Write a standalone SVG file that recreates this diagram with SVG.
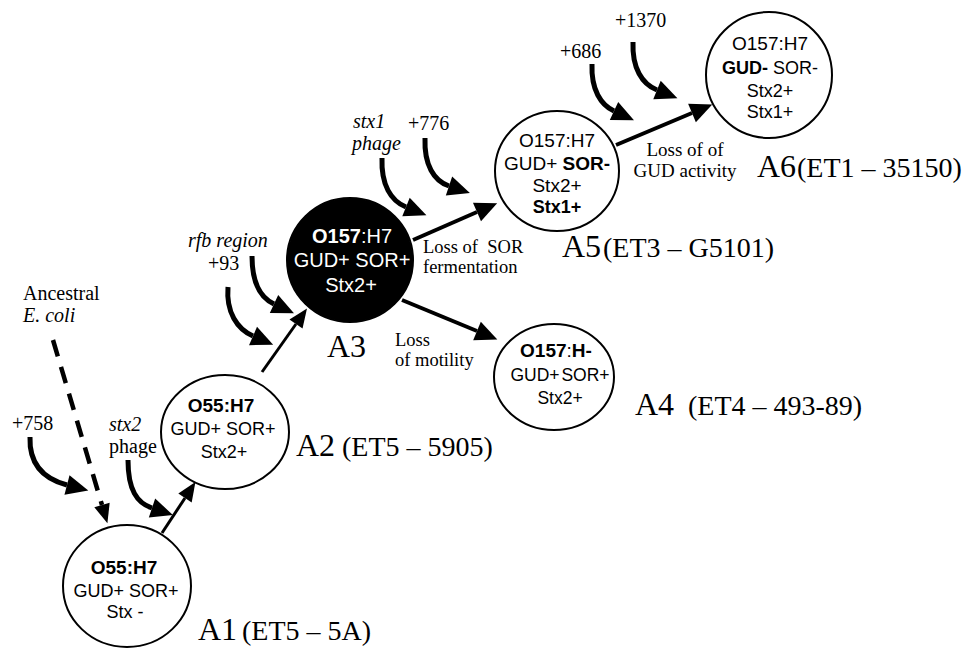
<svg xmlns="http://www.w3.org/2000/svg" width="972" height="648" viewBox="0 0 972 648">
<style>
.node{fill:#fff;stroke:#000;stroke-width:2}
.dark{fill:#000;stroke:#000;stroke-width:2}
.nt{font-family:"Liberation Sans",Arial,sans-serif;font-size:18px;text-anchor:middle;fill:#000}
.b{font-weight:bold}
.lab{font-family:"Liberation Serif","Times New Roman",serif;font-size:20px;fill:#000}
.sm{font-size:19px}
.it{font-style:italic}
.big{font-family:"Liberation Serif","Times New Roman",serif;font-size:32px;fill:#000}
.mid{font-size:28px}
.curve{fill:none;stroke:#000;stroke-width:5}
.straight{fill:none;stroke:#000;stroke-width:4}
.thin{fill:none;stroke:#000;stroke-width:3}
.dash{fill:none;stroke:#000;stroke-width:4.5;stroke-dasharray:17 11}
</style>
<defs>
<marker id="ah" markerUnits="userSpaceOnUse" viewBox="0 -10 22 20" refX="0" refY="0" markerWidth="22" markerHeight="20" orient="auto" overflow="visible">
<path d="M0,-10 L22,0 L0,10 z" fill="#000"/>
</marker>
<marker id="ahs" markerUnits="userSpaceOnUse" viewBox="0 -8 19 16" refX="0" refY="0" markerWidth="19" markerHeight="16" orient="auto" overflow="visible">
<path d="M0,-8 L19,0 L0,8 z" fill="#000"/>
</marker>
</defs>

<g id="connectors">
<path class="thin" d="M162,533 L185,498" marker-end="url(#ahs)"/>
<path class="thin" d="M262,372 L296,324" marker-end="url(#ahs)"/>
<path class="straight" d="M413,240 L477,212" marker-end="url(#ah)"/>
<path class="straight" d="M616,145 L692,113" marker-end="url(#ah)"/>
<path class="straight" d="M402,300 L477,331" marker-end="url(#ah)"/>
<path class="dash" d="M53,340 L102,505" marker-end="url(#ahs)"/>
<path class="curve" d="M30,437 C29,465 44,479 67,485" marker-end="url(#ah)"/>
<path class="curve" d="M128,460 C128,490 137,503 152,508" marker-end="url(#ah)"/>
<path class="curve" d="M228,287 C226,312 237,329 253,336" marker-end="url(#ah)"/>
<path class="curve" d="M252,256 C252,283 261,298 274,304" marker-end="url(#ah)"/>
<path class="curve" d="M382,158 C381,185 391,201 406,207" marker-end="url(#ah)"/>
<path class="curve" d="M425,138 C424,165 434,181 449,186" marker-end="url(#ah)"/>
<path class="curve" d="M592,64 C591,90 601,105 614,111" marker-end="url(#ah)"/>
<path class="curve" d="M633,42 C632,68 642,84 657,90" marker-end="url(#ah)"/>
<text class="lab" x="12" y="430">+758</text>
<text class="lab it" x="109" y="431">stx2</text>
<text class="lab" x="109" y="453">phage</text>
<text class="lab" x="23" y="300">Ancestral</text>
<text class="lab it" x="23" y="322">E. coli</text>
<text class="lab" x="208" y="270">+93</text>
<text class="lab it" x="188" y="247">rfb region</text>
<text class="lab it" x="353" y="128">stx1</text>
<text class="lab it" x="352" y="150">phage</text>
<text class="lab" x="408" y="130">+776</text>
<text class="lab" x="560" y="58">+686</text>
<text class="lab" x="615" y="27">+1370</text>
<text class="lab" x="423" y="253" style="font-size:18.5px" xml:space="preserve">Loss of  SOR</text>
<text class="lab" x="423" y="273" style="font-size:18.5px">fermentation</text>
<text class="lab sm" x="685" y="156" text-anchor="middle">Loss of of</text>
<text class="lab sm" x="685" y="177" text-anchor="middle">GUD activity</text>
<text class="lab" x="395" y="346" style="font-size:18.5px">Loss</text>
<text class="lab" x="395" y="366" style="font-size:18.5px">of motility</text>
</g>

<g id="A1">
<ellipse class="node" cx="127" cy="586" rx="64" ry="61"/>
<text class="nt b" x="124" y="574" style="font-size:19px">O55:H7</text>
<text class="nt" x="126" y="597">GUD+ SOR+</text>
<text class="nt" x="125" y="618">Stx -</text>
<text class="big" x="198" y="640">A1<tspan class="mid" x="242">(ET5 – 5A)</tspan></text>
</g>

<g id="A2">
<ellipse class="node" cx="225" cy="432" rx="64" ry="57"/>
<text class="nt b" x="221" y="412" style="font-size:19px">O55:H7</text>
<text class="nt" x="223" y="435">GUD+ SOR+</text>
<text class="nt" x="224" y="458">Stx2+</text>
<text class="big" x="296" y="456">A2<tspan class="mid" x="342">(ET5 – 5905)</tspan></text>
</g>

<g id="A3">
<ellipse class="dark" cx="350" cy="260" rx="63" ry="62"/>
<text class="nt" x="352" y="243" style="font-size:20px;fill:#fff"><tspan class="b">O157</tspan>:H7</text>
<text class="nt" x="352" y="267" style="font-size:20px;fill:#fff">GUD+ SOR+</text>
<text class="nt" x="351" y="292" style="font-size:20px;fill:#fff">Stx2+</text>
<text class="big" x="327" y="357">A3</text>
</g>

<g id="A4">
<ellipse class="node" cx="554" cy="377" rx="60" ry="53"/>
<text class="nt" x="556" y="357" style="font-size:19px"><tspan class="b">O157</tspan>:<tspan class="b">H-</tspan></text>
<text class="nt" x="560" y="381" style="font-size:17.5px;word-spacing:-3px">GUD+ SOR+</text>
<text class="nt" x="560" y="404" style="font-size:17.5px">Stx2+</text>
<text class="big" x="635" y="415">A4<tspan class="mid" x="688">(ET4 – 493-89)</tspan></text>
</g>

<g id="A5">
<ellipse class="node" cx="557" cy="171" rx="62" ry="60"/>
<text class="nt" x="557" y="147" style="font-size:19px">O157:H7</text>
<text class="nt" x="557" y="170" style="font-size:19px">GUD+ <tspan class="b">SOR-</tspan></text>
<text class="nt" x="557" y="192" style="font-size:19px">Stx2+</text>
<text class="nt b" x="557" y="213" style="font-size:18px">Stx1+</text>
<text class="big" x="562" y="257">A5<tspan class="mid" x="603">(ET3 – G5101)</tspan></text>
</g>

<g id="A6">
<ellipse class="node" cx="769" cy="75" rx="63" ry="63"/>
<text class="nt" x="770" y="50" style="font-size:19px">O157:H7</text>
<text class="nt" x="770" y="74"><tspan class="b">GUD-</tspan> SOR-</text>
<text class="nt" x="770" y="97">Stx2+</text>
<text class="nt" x="770" y="118">Stx1+</text>
<text class="big" x="757" y="177">A6<tspan class="mid" x="797">(ET1 – 35150)</tspan></text>
</g>
</svg>
